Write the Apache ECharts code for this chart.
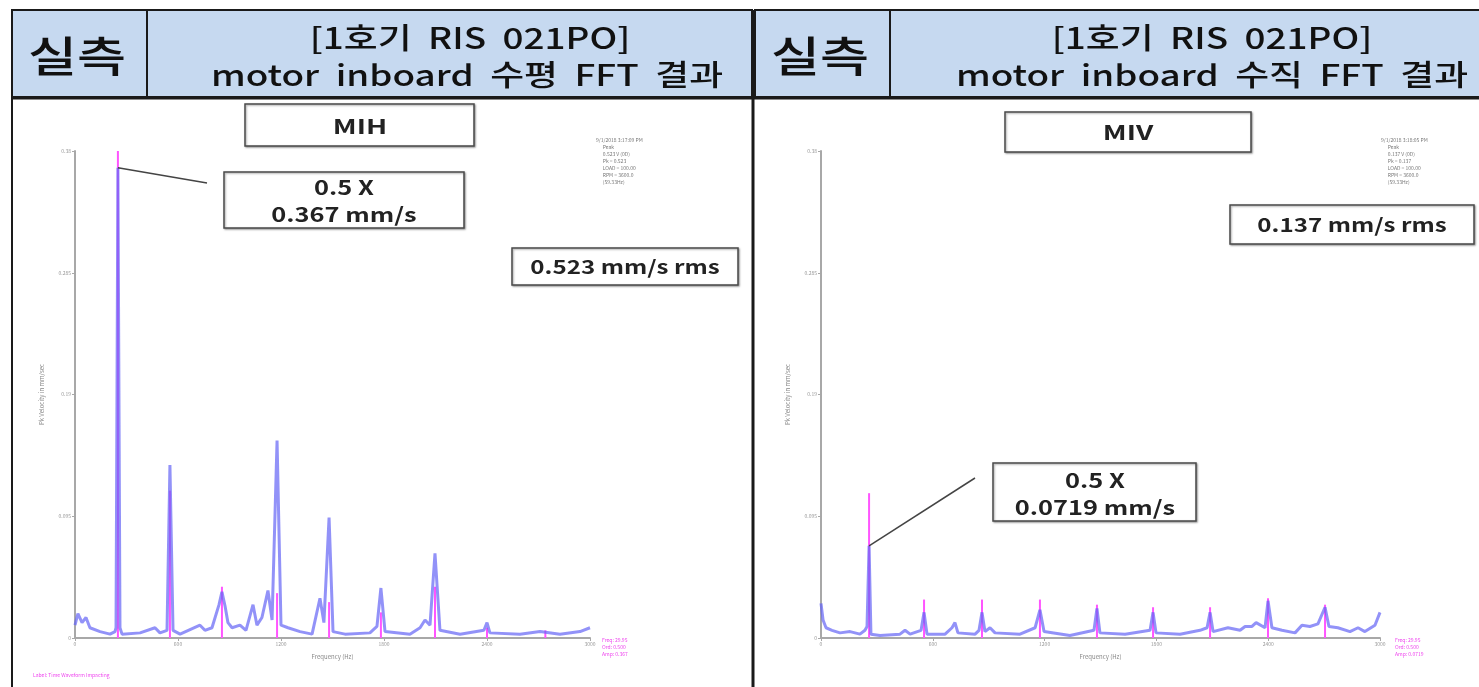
<!DOCTYPE html>
<html><head><meta charset="utf-8">
<script src="https://cdn.jsdelivr.net/npm/echarts@6/dist/echarts.min.js"></script>
<style>html,body{margin:0;padding:0;background:#fff;}#c{width:1479px;height:687px;}</style>
</head><body><div id="c"></div>
<script>
// ---- data (frequency, amplitude mm/s) ----
const leftSpectrum = [[0,0.010],[17,0.019],[41,0.012],[64,0.016],[87,0.008],[146,0.005],[204,0.003],[233,0.005],[239,0.008],[250,0.367],[262,0.008],[274,0.003],[379,0.004],[466,0.008],[495,0.004],[536,0.006],[553,0.135],[571,0.006],[612,0.003],[728,0.010],[757,0.006],[798,0.008],[839,0.026],[856,0.036],[874,0.025],[891,0.012],[915,0.008],[961,0.010],[996,0.006],[1037,0.026],[1060,0.010],[1089,0.016],[1124,0.037],[1148,0.014],[1177,0.154],[1200,0.010],[1241,0.008],[1311,0.005],[1381,0.003],[1427,0.031],[1450,0.012],[1480,0.094],[1503,0.005],[1573,0.003],[1718,0.004],[1759,0.009],[1782,0.039],[1806,0.005],[1951,0.003],[2010,0.008],[2039,0.014],[2068,0.010],[2097,0.066],[2126,0.006],[2243,0.003],[2382,0.006],[2400,0.012],[2417,0.004],[2592,0.003],[2709,0.005],[2825,0.003],[2942,0.005],[3000,0.008]];
const leftPeaks = [[250,0.38],[553,0.115],[856,0.040],[1177,0.035],[1480,0.028],[1782,0.020],[2097,0.040],[2400,0.008],[2740,0.006]];
const rightSpectrum = [[0,0.027],[11,0.014],[27,0.008],[59,0.006],[102,0.004],[156,0.005],[209,0.003],[236,0.006],[247,0.009],[258,0.0719],[268,0.003],[317,0.002],[424,0.003],[451,0.006],[478,0.003],[537,0.006],[553,0.020],[569,0.003],[666,0.003],[703,0.008],[719,0.012],[735,0.004],[827,0.003],[848,0.006],[864,0.020],[880,0.005],[907,0.008],[934,0.004],[1068,0.003],[1149,0.008],[1175,0.022],[1197,0.005],[1336,0.002],[1465,0.006],[1481,0.023],[1497,0.004],[1632,0.003],[1766,0.006],[1782,0.020],[1798,0.004],[1927,0.003],[2034,0.006],[2072,0.008],[2088,0.020],[2104,0.005],[2184,0.008],[2249,0.006],[2276,0.009],[2313,0.009],[2335,0.012],[2383,0.008],[2399,0.029],[2420,0.008],[2474,0.006],[2544,0.004],[2581,0.010],[2624,0.009],[2667,0.011],[2705,0.024],[2726,0.009],[2774,0.008],[2839,0.005],[2882,0.008],[2919,0.005],[2973,0.010],[3000,0.020]];
const rightPeaks = [[258,0.113],[553,0.030],[864,0.030],[1175,0.030],[1481,0.026],[1782,0.024],[2088,0.024],[2399,0.031],[2705,0.026]];
const leftCallout = [250, 0.367];
const rightCallout = [258, 0.0719];
const yMax = 0.38, yStep = 0.095, xMax = 3000, xStep = 600;

const FONT = '"Noto Sans CJK KR", "Noto Sans", sans-serif';
const SX = 1.27; // horizontal stretch of the original screenshot

const chart = echarts.init(document.getElementById('c'));
const axisCommon = {
  axisLine:{show:true,lineStyle:{color:'#a8a8a8',width:2}},
  axisTick:{show:true,length:3,lineStyle:{color:'#a8a8a8'}},
  axisLabel:{fontSize:5,color:'#999',fontFamily:FONT,margin:4,formatter:v=>String(v)},
  splitLine:{show:false},
  nameTextStyle:{fontSize:6,color:'#888',fontFamily:FONT}
};
function xAx(i){ return Object.assign({}, axisCommon, {type:'value',gridIndex:i,min:0,max:xMax,interval:xStep,name:'Frequency (Hz)',nameLocation:'middle',nameGap:16}); }
function yAx(i){ return Object.assign({}, axisCommon, {type:'value',gridIndex:i,min:0,max:yMax,interval:yStep,name:'Pk Velocity in mm/sec',nameLocation:'middle',nameGap:30}); }

function box(x,y,w,h){ return {type:'rect',shape:{x:x,y:y,width:w,height:h},style:{fill:'#fff',stroke:'#4a4a4a',lineWidth:1.5,shadowColor:'rgba(0,0,0,0.35)',shadowBlur:2,shadowOffsetX:1,shadowOffsetY:1},z:50}; }
function txt(x,y,t,size,weight,color,sx){ return {type:'text',x:x,y:y,scaleX:sx||SX,style:{text:t,font:(weight||'bold')+' '+size+'px '+FONT,fill:color||'#222',textAlign:'center',textVerticalAlign:'middle'},z:60}; }
function small(x,y,lines,color){ return {type:'text',x:x,y:y,style:{text:lines.join('\n'),font:'5px '+FONT,fill:color,lineHeight:7,textAlign:'left',textVerticalAlign:'top'},z:60}; }

const headFill = '#c6d9f0';
const graphics = [
  {type:'rect',shape:{x:12,y:10,width:135,height:87},style:{fill:headFill,stroke:'#1a1a1a',lineWidth:2},z:1},
  {type:'rect',shape:{x:147,y:10,width:605,height:87},style:{fill:headFill,stroke:'#1a1a1a',lineWidth:2},z:1},
  {type:'rect',shape:{x:755,y:10,width:135,height:87},style:{fill:headFill,stroke:'#1a1a1a',lineWidth:2},z:1},
  {type:'rect',shape:{x:890,y:10,width:595,height:87},style:{fill:headFill,stroke:'#1a1a1a',lineWidth:2},z:1},
  {type:'line',shape:{x1:12,y1:98,x2:1479,y2:98},style:{stroke:'#1a1a1a',lineWidth:3},z:2},
  {type:'line',shape:{x1:12,y1:10,x2:12,y2:687},style:{stroke:'#1a1a1a',lineWidth:2},z:2},
  {type:'line',shape:{x1:753,y1:10,x2:753,y2:687},style:{stroke:'#1a1a1a',lineWidth:3},z:2},
  txt(77,56,'실측',42,'500','#111'),
  txt(470,38,'[1호기  RIS  021PO]',29,'500','#111'),
  txt(467,75,'motor  inboard  수평  FFT  결과',29,'500','#111'),
  txt(820,56,'실측',42,'500','#111'),
  txt(1212,38,'[1호기  RIS  021PO]',29,'500','#111'),
  txt(1212,75,'motor  inboard  수직  FFT  결과',29,'500','#111'),
  box(245,104,229,42), txt(360,126,'MIH',20,'bold','#222',1.4),
  box(224,172,240,56), txt(344,187,'0.5 X',20), txt(344,214,'0.367 mm/s',20),
  box(512,248,226,37), txt(625,267,'0.523 mm/s rms',19),
  small(596,137,['9/1/2018 3:17:09 PM','      Peak','      0.523 V (0D)','      Pk = 0.523','      LOAD = 100.00','      RPM = 3600.0','      (59.33Hz)'],'#777'),
  small(602,637,['Freq: 29.95','Ord: 0.500','Amp: 0.367'],'#ee44ee'),
  small(33,672,['Label: Time Waveform Impacting'],'#ee44ee'),
  box(1005,112,246,40), txt(1128,132,'MIV',20,'bold','#222',1.4),
  box(993,463,203,58), txt(1095,480,'0.5 X',20), txt(1095,507,'0.0719 mm/s',20),
  box(1230,205,244,39), txt(1352,225,'0.137 mm/s rms',19),
  small(1381,137,['9/1/2018 3:18:05 PM','      Peak','      0.137 V (0D)','      Pk = 0.137','      LOAD = 100.00','      RPM = 3600.0','      (59.33Hz)'],'#777'),
  small(1395,637,['Freq: 29.95','Ord: 0.500','Amp: 0.0719'],'#ee44ee')
];

const blueLine = {color:'rgba(100,100,245,0.7)',width:3};
function calloutLine(pt, end){ return {silent:true,symbol:['none','none'],lineStyle:{color:'#444',width:1.5,type:'solid'},label:{show:false},data:[[{coord:pt},{x:end[0],y:end[1]}]]}; }
function pinkBars(i, data){ return {type:'bar',xAxisIndex:i,yAxisIndex:i,data:data,barWidth:2,itemStyle:{color:'#ff55ff'},z:2,silent:true}; }

chart.setOption({
  animation:false,
  grid:[{left:75,top:151,width:515,height:487},{left:821,top:151,width:559,height:487}],
  xAxis:[xAx(0),xAx(1)],
  yAxis:[yAx(0),yAx(1)],
  series:[
    pinkBars(0,leftPeaks),
    {type:'line',xAxisIndex:0,yAxisIndex:0,data:leftSpectrum,showSymbol:false,lineStyle:blueLine,z:3,markLine:calloutLine(leftCallout,[207,183])},
    pinkBars(1,rightPeaks),
    {type:'line',xAxisIndex:1,yAxisIndex:1,data:rightSpectrum,showSymbol:false,lineStyle:blueLine,z:3,markLine:calloutLine(rightCallout,[975,478])}
  ],
  graphic:graphics
});
</script></body></html>
